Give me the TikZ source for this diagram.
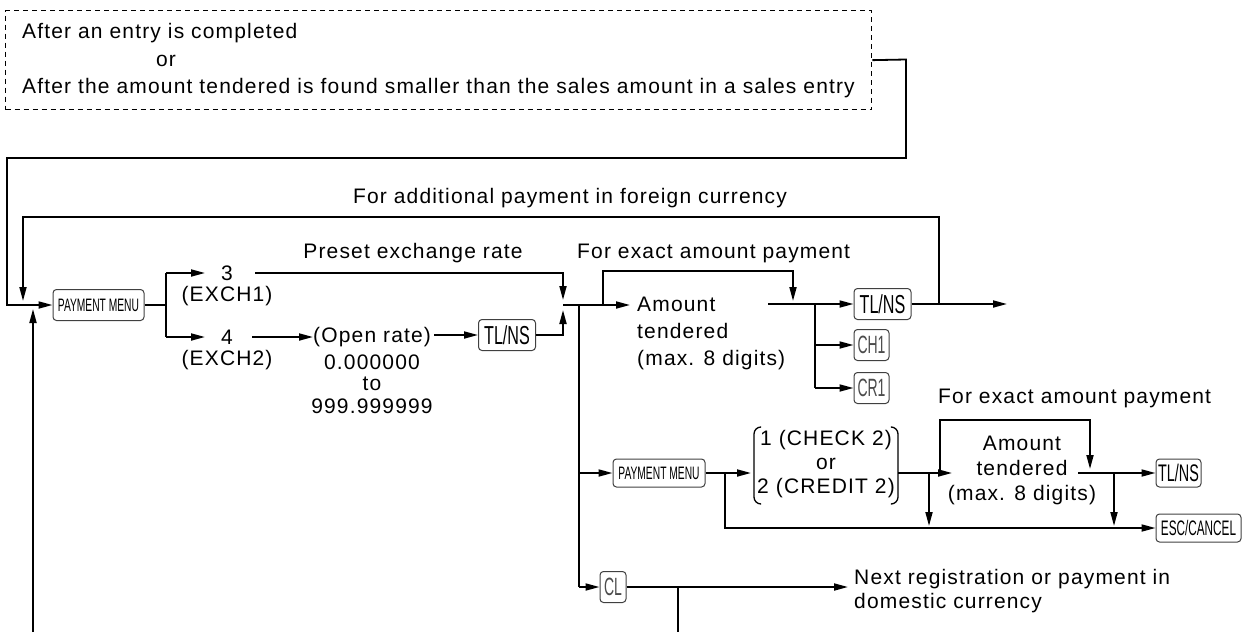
\documentclass[tikz,border=0pt]{standalone}
\usepackage{fontspec}
\usepackage{graphicx}
\setmainfont{Liberation Sans}
\newfontfamily\spaced{Liberation Sans}[LetterSpace=5.5]
\usetikzlibrary{arrows.meta}
\newcommand\keyf[3]{\scalebox{#2}[1]{\fontsize{#1}{#1}\selectfont #3}}
\begin{document}
\begin{tikzpicture}[x=1pt,y=-1pt,
  ln/.style={line width=1.8pt},
  arr/.style={line width=1.8pt,-{Triangle[length=14pt,width=7pt]}},
  key/.style={draw=black!75,line width=1pt,rounded corners=3.5pt,inner sep=0pt,minimum height=31pt},
  txt/.style={inner sep=0pt,font=\spaced\fontsize{21}{27}\selectfont},
  paren/.style={line width=1.3pt,rounded corners=7pt}]
\useasboundingbox (0,0) rectangle (1255,632);

% condition box
\node[draw,dashed,dash pattern=on 5pt off 4pt,line width=1.3pt,anchor=north west,minimum width=866pt,minimum height=99pt,inner sep=0pt] (cond) at (5,10) {};
\node[txt,anchor=west] (c1) at (22,33) {After an entry is completed};
\node[txt] (c2) at (166,61) {or};
\node[txt,anchor=west] (c3) at (22,88) {After the amount tendered is found smaller than the sales amount in a sales entry};

% keys and texts row 1
\node[key,minimum width=91pt] (pm1) at (98.5,305) {\keyf{18}{0.57}{PAYMENT MENU}};
\node[txt] (n3) at (227,273) {3};
\node[txt] (ex1) at (227,296) {(EXCH1)};
\node[txt] (n4) at (227,337) {4};
\node[txt] (ex2) at (227,360) {(EXCH2)};
\node[txt] (preset) at (413,253) {Preset exchange rate};
\node[txt,anchor=west] (open) at (313,337) {(Open rate)};
\node[txt] (r0) at (372,362) {0.000000};
\node[txt] (rto) at (372,384) {to};
\node[txt] (r9) at (372,406) {999.999999};
\node[key,minimum width=57pt] (tl1) at (507,335) {\keyf{26}{0.62}{TL/NS}};
\node[txt] (addl) at (570,198) {For additional payment in foreign currency};
\node[txt,anchor=west] (exact1) at (577,253) {For exact amount payment};
\node[txt,anchor=west,align=left] (amt1) at (637,333) {Amount\\tendered\\(max. 8 digits)};
\node[key,minimum width=57pt] (tl2) at (882.5,304) {\keyf{26}{0.62}{TL/NS}};
\node[key,minimum width=35pt] (ch1) at (871.5,345) {\keyf{25}{0.56}{\color{black!70}CH1}};
\node[key,minimum width=35pt] (cr1) at (871.5,388) {\keyf{25}{0.56}{\color{black!70}CR1}};

% row 2
\node[key,minimum width=92pt,minimum height=28pt] (pm2) at (659,473) {\keyf{18}{0.57}{PAYMENT MENU}};
\node[txt,align=center,font=\spaced\fontsize{21}{24}\selectfont] (sel) at (826,464) {1 (CHECK 2)\\or\\2 (CREDIT 2)};
\node[txt,align=center,font=\spaced\fontsize{21}{25}\selectfont] (amt2) at (1022,470) {Amount\\tendered\\(max. 8 digits)};
\node[txt,anchor=west] (exact2) at (938,398) {For exact amount payment};
\node[key,minimum width=45pt,minimum height=28pt] (tl3) at (1178.5,473) {\keyf{24}{0.6}{TL/NS}};
\node[key,minimum width=85pt,minimum height=28pt] (esc) at (1198.5,528) {\keyf{21}{0.56}{ESC/CANCEL}};

% row 3
\node[key,minimum width=26pt] (cl) at (613,587) {\keyf{25}{0.56}{\color{black!70}CL}};
\node[txt,anchor=west,align=left,font=\spaced\fontsize{21}{24}\selectfont] (next) at (854,591) {Next registration or payment in\\domestic currency};

% parentheses
\draw[paren] (760,427) -- (754,427) -- (754,504) -- (760,504);
\draw[paren] (892,427) -- (898,427) -- (898,504) -- (892,504);

% coordinates
\coordinate (j1) at (563,305);
\coordinate (j3) at (939,304);
\coordinate (v0) at (579,305);

% connectors
\draw[arr] (cond.east) -- (906,59.5) |- (7,158) |- (pm1.west);
\draw[arr] (j3) -- (939,217) -| (23,301);
\draw[arr] (33,632) -- (33,309);
\draw[ln] (pm1.east) -- (166,305);
\draw[ln] (166,273) -- (166,337);
\draw[arr] (166,273) -- (205,273);
\draw[arr] (166,337) -- (205,337);
\draw[arr] (255,273) -- (563,273) -- (563,300);
\draw[arr] (252,337) -- (open.west);
\draw[arr] (open.east) ++(3,-2) -- (tl1.west);
\draw[arr] (tl1.east) -- (563,335) -- (563,310);
\draw[arr] (j1) -- (630,305);
\draw[arr] (603,305) |- (793,271) -- (793,301);
\draw[arr] (768,304) -- (tl2.west);
\draw[ln] (815,304) -- (815,388);
\draw[arr] (815,345) -- (ch1.west);
\draw[arr] (815,388) -- (cr1.west);
\draw[arr] (tl2.east) -- (1007,304);
\draw[ln] (v0) -- (579,587);
\draw[arr] (579,473) -- (pm2.west);
\draw[arr] (pm2.east) -- (751,473);
\draw[arr] (725,473) |- (esc.west);
\draw[arr] (898,473) -- (952,473);
\draw[arr] (940,473) |- (1090,420) -- (1090,469);
\draw[arr] (929,473) -- (929,526);
\draw[arr] (1078,473) -- (tl3.west);
\draw[arr] (1114,473) -- (1114,526);
\draw[arr] (579,587) -- (cl.west);
\draw[arr] (cl.east) -- (848,587);
\draw[ln] (678,587) -- (678,632);
\end{tikzpicture}
\end{document}
